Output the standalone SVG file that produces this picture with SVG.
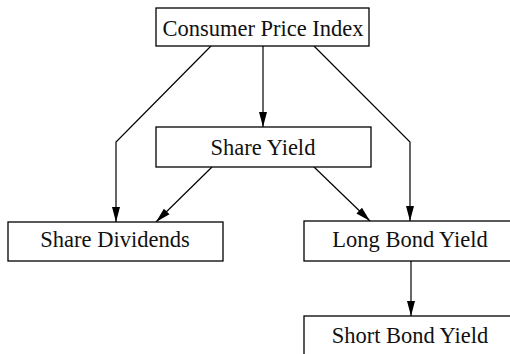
<svg xmlns="http://www.w3.org/2000/svg" width="510" height="354" viewBox="0 0 510 354">
<defs>
<style>
.box{fill:#fff;stroke:#000;stroke-width:1.3}
.lbl{font-family:"Liberation Serif","DejaVu Serif",serif;font-size:22.5px;fill:#111;text-anchor:middle}
.edge{fill:none;stroke:#000;stroke-width:1.2}
</style>
<marker id="ah" markerUnits="userSpaceOnUse" markerWidth="16" markerHeight="10" viewBox="0 0 16 10" refX="15" refY="5" orient="auto">
<path d="M0,1 L15,5 L0,9 Z" fill="#000"/>
</marker>
</defs>
<rect width="510" height="354" fill="#fff"/>
<g id="connectors">
<path class="edge" d="M263,46 L263,127" marker-end="url(#ah)"/>
<path class="edge" d="M211,46 L116,142 L116,222" marker-end="url(#ah)"/>
<path class="edge" d="M314,46 L410,142 L410,221" marker-end="url(#ah)"/>
<path class="edge" d="M212,167 L156,222" marker-end="url(#ah)"/>
<path class="edge" d="M314,167 L370,221" marker-end="url(#ah)"/>
<path class="edge" d="M411,261 L411,316" marker-end="url(#ah)"/>
</g>
<g id="cpi">
<rect class="box" x="156" y="8" width="213" height="38"/>
<text class="lbl" x="263" y="36">Consumer Price Index</text>
</g>
<g id="share-yield">
<rect class="box" x="156" y="127" width="215" height="40"/>
<text class="lbl" x="263" y="155">Share Yield</text>
</g>
<g id="share-dividends">
<rect class="box" x="8" y="222" width="215" height="39"/>
<text class="lbl" x="115" y="247">Share Dividends</text>
</g>
<g id="long-bond-yield">
<rect class="box" x="304" y="221" width="214" height="40"/>
<text class="lbl" x="410" y="247">Long Bond Yield</text>
</g>
<g id="short-bond-yield">
<rect class="box" x="304" y="316" width="214" height="46"/>
<text class="lbl" x="410" y="343">Short Bond Yield</text>
</g>
</svg>
